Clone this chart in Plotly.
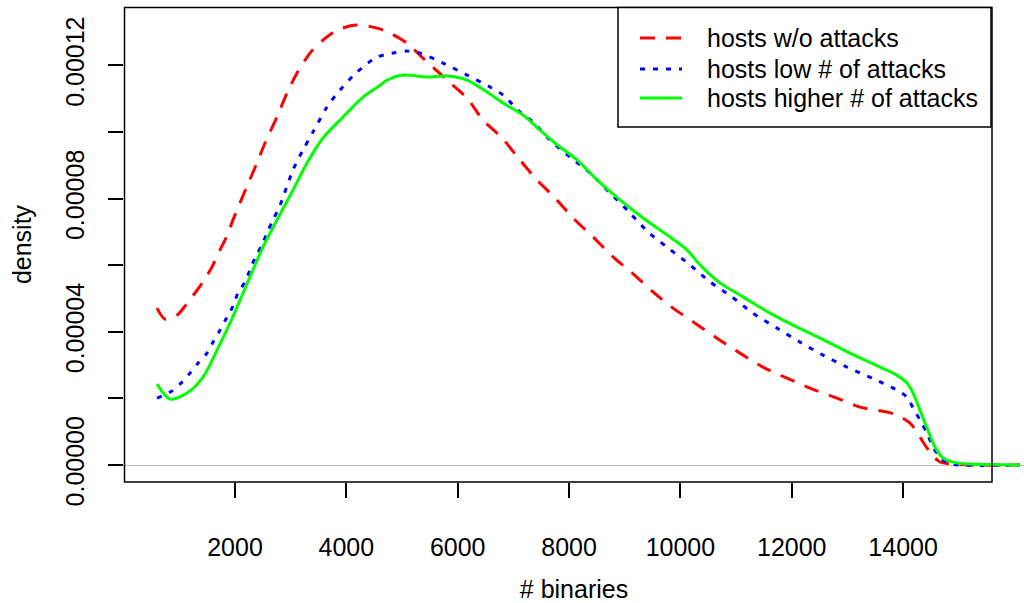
import plotly.graph_objects as go

# ---------------- data ----------------
red_x = [599, 743, 958, 1102, 1282, 1425, 1587, 1731, 1856, 1964, 2090, 2216, 2395, 2539, 2754, 2934,
         3114, 3347, 3580, 3832, 4191, 4550, 4784, 5089, 5377, 5808, 6167, 6454, 6796, 7119, 7424,
         7748, 8071, 8430, 8789, 9131, 9508, 9867, 10262, 10657, 11070, 11483, 11914, 12327, 12812,
         13226, 13711, 13890, 14124, 14249, 14357, 14483, 14662, 14896, 15201, 16099]
red_y = [4.71, 4.38, 4.50, 4.77, 5.17, 5.50, 5.95, 6.46, 6.88, 7.36, 7.87, 8.38, 9.07, 9.67, 10.45, 11.17,
         11.77, 12.37, 12.76, 13.06, 13.21, 13.12, 12.97, 12.67, 12.22, 11.56, 11.02, 10.36, 9.82, 9.16, 8.56,
         8.02, 7.42, 6.85, 6.25, 5.77, 5.20, 4.71, 4.26, 3.81, 3.36, 2.94, 2.61, 2.31, 2.01,
         1.74, 1.59, 1.50, 1.26, 0.99, 0.69, 0.39, 0.09, 0.03, 0.0, 0.0]

blue_x = [599, 868, 1048, 1192, 1335, 1497, 1605, 1731, 1856, 1964, 2054, 2180, 2269, 2359, 2485, 2575,
          2683, 2808, 3042, 3221, 3401, 3652, 3886, 4191, 4550, 4838, 5089, 5323, 5736, 6167, 6580, 6813,
          7119, 7352, 7658, 8017, 8376, 8735, 9094, 9418, 9777, 10172, 10531, 10926, 11304, 11735, 12148,
          12561, 12992, 13441, 13854, 14070, 14178, 14303, 14429, 14537, 14662, 14788, 15022, 16099]
blue_y = [2.01, 2.22, 2.49, 2.76, 3.06, 3.36, 3.69, 4.05, 4.44, 4.77, 5.17, 5.50, 5.86, 6.22, 6.61, 6.97,
          7.36, 7.80, 8.86, 9.46, 10.0, 10.75, 11.26, 11.80, 12.25, 12.37, 12.43, 12.37, 12.07, 11.71, 11.35, 11.11,
          10.60, 10.30, 9.76, 9.25, 8.77, 8.17, 7.57, 7.00, 6.52, 6.01, 5.50, 5.05, 4.56, 4.11, 3.69,
          3.30, 2.94, 2.61, 2.28, 2.04, 1.71, 1.35, 0.96, 0.54, 0.24, 0.06, 0.0, 0.0]

green_x = [599, 833, 1138, 1425, 1677, 1910, 2090, 2269, 2503, 2754, 3042, 3293, 3580, 3940,
           4299, 4604, 4730, 5017, 5449, 5808, 6167, 6526, 6813, 7173, 7478, 7837, 8143, 8502, 8915,
           9328, 9759, 10118, 10352, 10711, 11124, 11609, 12094, 12507, 13046, 13585, 13890, 14070,
           14178, 14303, 14429, 14573, 14716, 14968, 15201, 16099]
green_y = [2.43, 1.98, 2.16, 2.64, 3.45, 4.26, 4.95, 5.65, 6.55, 7.36, 8.26, 9.07, 9.82, 10.45,
           11.05, 11.40, 11.56, 11.71, 11.65, 11.68, 11.56, 11.20, 10.87, 10.51, 10.06, 9.55, 9.16, 8.56, 7.96,
           7.42, 6.91, 6.46, 6.01, 5.47, 5.05, 4.56, 4.14, 3.81, 3.36, 2.94, 2.70, 2.46,
           2.16, 1.65, 1.11, 0.54, 0.21, 0.06, 0.03, 0.0]

scale = 1e-5  # densities above are in units of 1e-5
series_names = ["hosts w/o attacks", "hosts low # of attacks", "hosts higher # of attacks"]
series_colors = ["#FF0000", "#0000FF", "#00FF00"]
series_dash = ["15px,11px", "5px,8px", "solid"]

x_ticks = [2000, 4000, 6000, 8000, 10000, 12000, 14000]
y_ticks = [0.0, 0.00002, 0.00004, 0.00006, 0.00008, 0.00010, 0.00012]
y_ticktext = ["0.00000", "", "0.00004", "", "0.00008", "", "0.00012"]

FONT = "Liberation Sans, Arial, Helvetica, sans-serif"
FS = 25

fig = go.Figure()
for xs, ys, name, col, dash in zip([red_x, blue_x, green_x], [red_y, blue_y, green_y],
                                   series_names, series_colors, series_dash):
    fig.add_trace(go.Scatter(x=xs, y=[v * scale for v in ys], mode="lines", name=name,
                             line=dict(color=col, width=3, dash=dash, shape="spline", smoothing=0.8),
                             showlegend=False, hoverinfo="skip"))

W, H = 1024, 603
L, R, T, B = 124, 0, 7, 121
pw, ph = W - L - R, H - T - B


def px(x):
    return (x - L) / pw


def py(y):
    return (H - B - y) / ph


shapes = []
# plot frame (R box)
shapes.append(dict(type="rect", xref="paper", yref="paper", x0=px(124.5), x1=px(992), y0=py(482), y1=py(7.5),
                   line=dict(color="black", width=1.5), fillcolor="rgba(0,0,0,0)", layer="above"))
# legend box
shapes.append(dict(type="rect", xref="paper", yref="paper", x0=px(618), x1=px(991), y0=py(127), y1=py(7.5),
                   line=dict(color="black", width=1.5), fillcolor="white", layer="above"))
legend_y = [38, 69, 98]
annotations = []
for name, col, dash, ly in zip(series_names, series_colors, series_dash, legend_y):
    shapes.append(dict(type="line", xref="paper", yref="paper", x0=px(640), x1=px(682), y0=py(ly), y1=py(ly),
                       line=dict(color=col, width=3, dash=dash), layer="above"))
    annotations.append(dict(text=name, xref="paper", yref="paper", x=px(705), y=py(ly), xanchor="left",
                            yanchor="middle", showarrow=False, font=dict(size=FS, color="black", family=FONT)))

fig.update_layout(
    width=W, height=H,
    margin=dict(l=L, r=R, t=T, b=B, autoexpand=False),
    paper_bgcolor="white", plot_bgcolor="white",
    font=dict(family=FONT, size=FS, color="black"),
    shapes=shapes, annotations=annotations,
    showlegend=False,
)
fig.update_xaxes(range=[6.3, 16171], tickvals=x_ticks, ticktext=[str(v) for v in x_ticks],
                 ticks="outside", ticklen=15, tickwidth=1.5, tickcolor="black",
                 showgrid=False, zeroline=False, showline=False,
                 ticklabelstandoff=28,
                 title=dict(text="# binaries", standoff=32, font=dict(size=FS)))
fig.update_yaxes(range=[-0.0000051, 0.00013754], tickvals=y_ticks, ticktext=y_ticktext,
                 tickangle=-90, ticks="outside", ticklen=15, tickwidth=1.5, tickcolor="black",
                 showgrid=False, zeroline=True, zerolinecolor="#BEBEBE", zerolinewidth=1.2, showline=False,
                 ticklabelstandoff=14,
                 title=dict(text="density", standoff=22, font=dict(size=FS)))

fig.write_html("out.html")
